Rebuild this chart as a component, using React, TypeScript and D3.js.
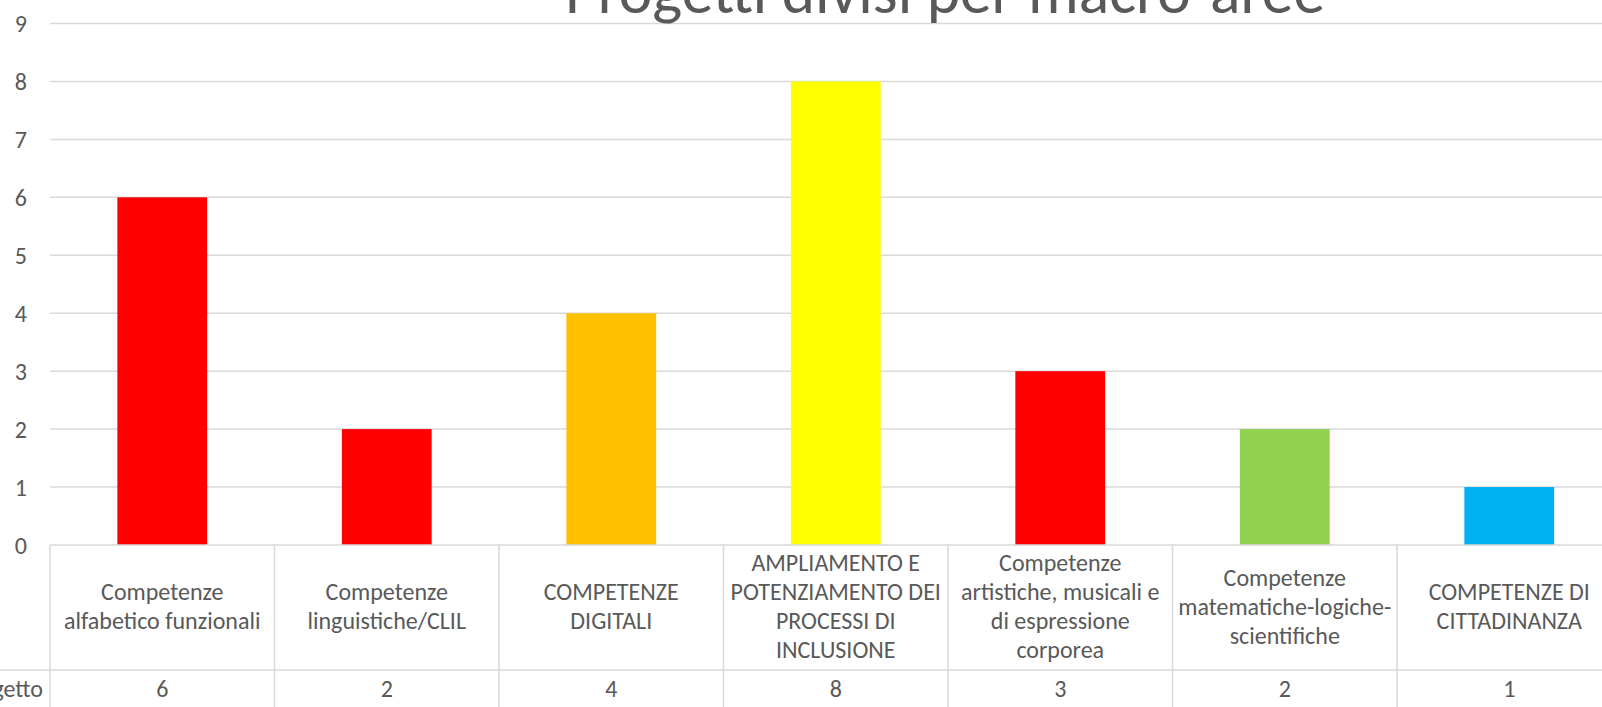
import React from "react";
import * as d3 from "d3";

const categories: string[][] = [
  ["Competenze", "alfabetico funzionali"],
  ["Competenze", "linguistiche/CLIL"],
  ["COMPETENZE", "DIGITALI"],
  ["AMPLIAMENTO E", "POTENZIAMENTO DEI", "PROCESSI DI", "INCLUSIONE"],
  ["Competenze", "artistiche, musicali e", "di espressione", "corporea"],
  ["Competenze", "matematiche-logiche-", "scientifiche"],
  ["COMPETENZE DI", "CITTADINANZA"],
];
const values: number[] = [6, 2, 4, 8, 3, 2, 1];
const barColors: string[] = ["#FF0000", "#FF0000", "#FFC000", "#FFFF00", "#FF0000", "#92D050", "#00B0F0"];
const yTicks: number[] = [0, 1, 2, 3, 4, 5, 6, 7, 8, 9];
const seriesName = "Progetto";
const title = "Progetti divisi per macro-aree";

const W = 1602;
const H = 707;
const FONT = "Carlito, Calibri, Lato, 'Open Sans', sans-serif";
const TEXT = "#595959";
const GRID = "#D9D9D9";

export default function App() {
  const keys = categories.map((_, i) => String(i));
  const plotLeft = 50;
  const plotRight = 1621.5;
  const cols = d3.scaleBand<string>().domain(keys).range([plotLeft, plotRight]).padding(0);
  const x = d3.scaleBand<string>().domain(keys).range([plotLeft, plotRight]).paddingInner(0.6).paddingOuter(0.3);
  const y = d3.scaleLinear().domain([0, 9]).range([545, 23.5]);
  const rowTop = y(0);
  const rowMid = 670;
  const lineH = 29;
  const labelFs = 24;

  return (
    <div style={{ position: "absolute", left: 0, top: 0, width: W, height: H, overflow: "hidden", background: "#fff" }}>
      <svg width={W} height={H} style={{ display: "block", fontFamily: FONT }}>
        <rect x={0} y={0} width={W} height={H} fill="#fff" />
        {yTicks.map((t) => (
          <g key={t}>
            {t > 0 && (
              <line x1={plotLeft} x2={W} y1={y(t)} y2={y(t)} stroke={GRID} strokeWidth={1.5} />
            )}
            <text x={27} y={y(t) + 8.5} textAnchor="end" fontSize={labelFs} fill={TEXT}>
              {t}
            </text>
          </g>
        ))}
        {values.map((v, i) => (
          <rect
            key={i}
            x={x(String(i))}
            y={y(v)}
            width={x.bandwidth()}
            height={y(0) - y(v)}
            fill={barColors[i]}
          />
        ))}
        {/* data table */}
        <line x1={plotLeft} x2={W} y1={rowTop} y2={rowTop} stroke={GRID} strokeWidth={1.5} />
        <line x1={0} x2={W} y1={rowMid} y2={rowMid} stroke={GRID} strokeWidth={1.5} />
        {keys.map((k) => (
          <line key={"v" + k} x1={cols(k)!} x2={cols(k)!} y1={rowTop} y2={H} stroke={GRID} strokeWidth={1.5} />
        ))}
        <line x1={plotRight} x2={plotRight} y1={rowTop} y2={H} stroke={GRID} strokeWidth={1.5} />
        {categories.map((lines, i) => {
          const cx = cols(String(i))! + cols.bandwidth() / 2;
          const center = 606;
          return (
            <text key={"c" + i} textAnchor="middle" fontSize={labelFs} fill={TEXT}>
              {lines.map((ln, j) => (
                <tspan key={j} x={cx} y={center + (j - (lines.length - 1) / 2) * lineH + 8.5}>
                  {ln}
                </tspan>
              ))}
            </text>
          );
        })}
        {values.map((v, i) => (
          <text
            key={"n" + i}
            x={cols(String(i))! + cols.bandwidth() / 2}
            y={696.5}
            textAnchor="middle"
            fontSize={labelFs}
            fill={TEXT}
          >
            {v}
          </text>
        ))}
        <text x={43} y={696.5} textAnchor="end" fontSize={labelFs} fill={TEXT}>
          {seriesName}
        </text>
        <text x={945} y={13} textAnchor="middle" fontSize={63.5} fontWeight={300} fill={TEXT}>
          {title}
        </text>
      </svg>
    </div>
  );
}
